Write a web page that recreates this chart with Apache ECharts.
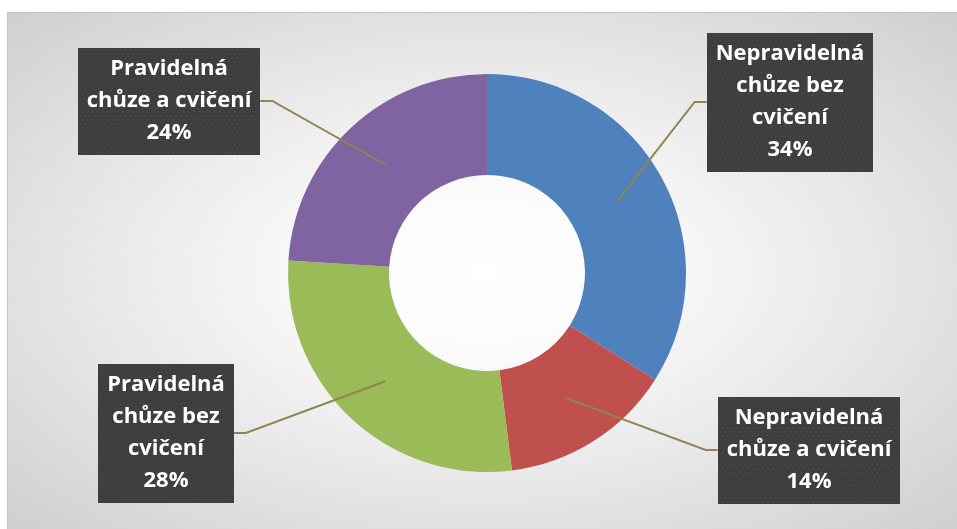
<!DOCTYPE html>
<html>
<head>
<meta charset="utf-8">
<script src="https://cdn.jsdelivr.net/npm/echarts@6/dist/echarts.min.js"></script>
<style>
  html, body { margin: 0; padding: 0; background: #ffffff; }
  #frame {
    position: absolute; left: 7px; top: 12px; right: 0; bottom: 0;
    border-left: 1px solid #c4c4c4; border-top: 1px solid #c4c4c4;
    background: radial-gradient(ellipse farthest-corner at 50% 50%, #ffffff 0%, #fbfbfb 22%, #e8e8e8 58%, #cfcfcf 100%);
  }
  #chart { position: absolute; left: 0; top: 0; width: 957px; height: 529px; }
</style>
</head>
<body>
<div id="frame"></div>
<div id="chart"></div>
<script>
// Categories (as wrapped in the callouts) and their shares
const categories = [
  'Nepravidelná\nchůze bez\ncvičení',
  'Nepravidelná\nchůze a cvičení',
  'Pravidelná\nchůze bez\ncvičení',
  'Pravidelná\nchůze a cvičení'
];
const values = [34, 14, 28, 24];
const colors = ['#4f81bd', '#c0504d', '#9bbb59', '#8064a2'];

// Ring geometry and callout placement (pixels)
const CENTER = [487, 273];
const R_IN = 98, R_OUT = 199;
const CALLOUT_CENTERS = [[790, 102], [809, 450], [166, 433], [169, 101]];
const ELBOW = 12;
const FONT_FAMILY = '"Open Sans", Lato, sans-serif';
const FONT_SIZE = 22;
const PAD_X = 9;

// Dark dotted fill for the callout boxes
function dottedFill(w, h) {
  const c = document.createElement('canvas');
  c.width = w; c.height = h;
  const g = c.getContext('2d');
  g.fillStyle = '#3e3e3e';
  g.fillRect(0, 0, w, h);
  g.fillStyle = '#525252';
  for (let y = 2, row = 0; y < h; y += 5, row++) {
    for (let x = (row % 2 ? 4 : 1.5); x < w; x += 5) {
      g.fillRect(x, y, 1.3, 1.3);
    }
  }
  return c;
}
const boxFill = dottedFill(180, 130);

const total = values.reduce((a, b) => a + b, 0);
function midAngle(i) {
  let before = 0;
  for (let k = 0; k < i; k++) before += values[k];
  return (before + values[i] / 2) / total * Math.PI * 2;
}

// Width of a callout box: widest text line plus side padding
const measureCtx = document.createElement('canvas').getContext('2d');
measureCtx.font = 'bold ' + FONT_SIZE + 'px ' + FONT_FAMILY;
function calloutWidth(i) {
  const lines = (categories[i] + '\n' + values[i] + '%').split('\n');
  return Math.max.apply(null, lines.map(s => measureCtx.measureText(s).width)) + PAD_X * 2;
}

// Leader lines from the middle of each ring segment to its callout
const leaders = values.map((v, i) => {
  const a = midAngle(i);
  const rMid = (R_IN + R_OUT) / 2;
  const ax = CENTER[0] + rMid * Math.sin(a);
  const ay = CENTER[1] - rMid * Math.cos(a);
  const cx = CALLOUT_CENTERS[i][0], cy = CALLOUT_CENTERS[i][1];
  const w = calloutWidth(i);
  const boxOnRight = ax < cx;
  const edgeX = boxOnRight ? cx - w / 2 : cx + w / 2;
  const elbowX = boxOnRight ? edgeX - ELBOW : edgeX + ELBOW;
  return {
    type: 'polyline',
    z: 10,
    silent: true,
    shape: { points: [[ax, ay], [elbowX, cy], [edgeX, cy]] },
    style: { fill: null, stroke: '#8f8550', lineWidth: 2 }
  };
});

const chart = echarts.init(document.getElementById('chart'), null, { renderer: 'canvas' });
chart.setOption({
  backgroundColor: 'transparent',
  animation: false,
  graphic: { elements: leaders },
  series: [{
    type: 'pie',
    z: 2,
    center: CENTER,
    radius: [R_IN, R_OUT],
    startAngle: 90,
    clockwise: true,
    avoidLabelOverlap: false,
    silent: true,
    data: categories.map((name, i) => ({
      name: name,
      value: values[i],
      itemStyle: { color: colors[i] }
    })),
    label: {
      show: true,
      position: 'outside',
      formatter: '{b}\n{d}%',
      color: '#ffffff',
      fontFamily: FONT_FAMILY,
      fontWeight: 'bold',
      fontSize: FONT_SIZE,
      lineHeight: 32,
      align: 'center',
      padding: [6, PAD_X, 5, PAD_X],
      backgroundColor: { image: boxFill },
      shadowColor: 'rgba(0,0,0,0.55)',
      shadowBlur: 7,
      shadowOffsetX: 3,
      shadowOffsetY: 3
    },
    labelLine: { show: false },
    labelLayout: function (params) {
      const c = CALLOUT_CENTERS[params.dataIndex];
      return { x: c[0], y: c[1], align: 'center', verticalAlign: 'middle' };
    }
  }]
});
</script>
</body>
</html>
